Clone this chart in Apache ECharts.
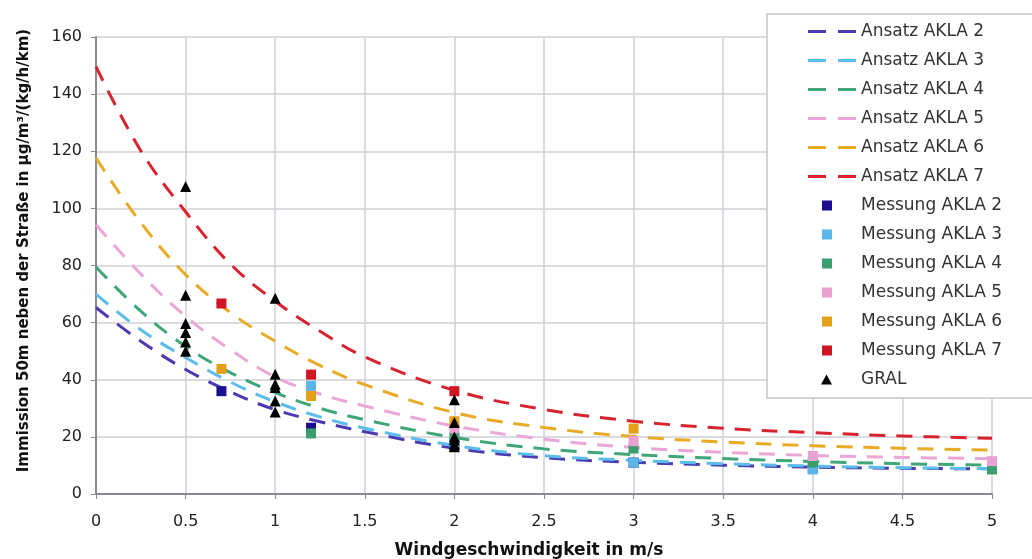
<!DOCTYPE html>
<html><head><meta charset="utf-8">
<script src="https://cdn.jsdelivr.net/npm/echarts@6/dist/echarts.min.js"></script>
<style>html,body{margin:0;padding:0;background:#fff}#c{width:1032px;height:559px}</style>
</head><body><div id="c"></div>
<script>
// Wind speeds at which the fitted curves were read
var curveX = [0, 0.25, 0.5, 0.75, 1, 1.25, 1.5, 2, 2.5, 3, 3.5, 4, 4.5, 5];
var ansatz2 = [65.3, 53.5, 43.6, 35.8, 29.5, 25.3, 21.8, 16.0, 12.7, 11.1, 10.1, 9.4, 9.0, 8.8];
var ansatz3 = [70.0, 57.5, 47.8, 39.2, 32.3, 27.0, 23.0, 17.0, 13.4, 11.8, 10.6, 9.8, 9.2, 8.9];
var ansatz4 = [79.5, 64.0, 51.7, 42.5, 35.5, 30.0, 26.0, 19.8, 15.8, 13.8, 12.4, 11.4, 10.6, 10.1];
var ansatz5 = [94.3, 77.0, 62.2, 50.5, 41.0, 35.0, 30.8, 23.8, 19.2, 16.3, 14.6, 13.5, 12.8, 12.4];
var ansatz6 = [117.6, 95.0, 76.8, 63.5, 53.5, 45.0, 38.3, 28.5, 23.3, 20.1, 18.2, 16.9, 16.0, 15.4];
var ansatz7 = [149.6, 120.2, 98.8, 80.5, 67.5, 57.0, 48.0, 36.3, 29.6, 25.5, 23.0, 21.5, 20.3, 19.5];

var messung2 = [[0.7, 36], [1.2, 23.2], [2, 17], [3, 11], [4, 9], [5, 8.8]];
var messung3 = [[1.2, 37.9], [2, 18], [3, 11], [4, 8.6], [5, 9]];
var messung4 = [[1.2, 21.2], [2, 20], [3, 15.9], [4, 11], [5, 8.6]];
var messung5 = [[2, 23], [3, 18.5], [4, 13.3], [5, 11.5]];
var messung6 = [[0.7, 43.8], [1.2, 34.3], [2, 25.5], [3, 22.9]];
var messung7 = [[0.7, 66.7], [1.2, 41.8], [2, 36]];
var gral = [[0.5, 107.7], [0.5, 69.6], [0.5, 59.7], [0.5, 56.5], [0.5, 53.2], [0.5, 50],
            [1, 68.5], [1, 41.9], [1, 38.4], [1, 37.3], [1, 32.6], [1, 28.7],
            [2, 33], [2, 25], [2, 20], [2, 19], [2, 17.5], [2, 16.5]];

var xTicks = ['0', '0.5', '1', '1.5', '2', '2.5', '3', '3.5', '4', '4.5', '5'];
var yTicks = ['0', '20', '40', '60', '80', '100', '120', '140', '160'];

var lineColors = ['#4a3cb0', '#5cbcec', '#3ea677', '#eaa6d6', '#e9ab25', '#d8232f'];
var markColors = ['#1c0e8e', '#5cb6ea', '#3a9e6e', '#e8a2d2', '#e5a01a', '#cf1424'];
var ansatz = [ansatz2, ansatz3, ansatz4, ansatz5, ansatz6, ansatz7];
var messung = [messung2, messung3, messung4, messung5, messung6, messung7];
var akla = ['2', '3', '4', '5', '6', '7'];

var dashIcon = 'path://M0,3.5L18,3.5L18,6.5L0,6.5ZM30,3.5L48,3.5L48,6.5L30,6.5ZM0,0L0.01,0L0.01,0.01ZM48,10L47.99,10L47.99,9.99Z';
var squareIcon = 'path://M14,0L24,0L24,10L14,10ZM0,0L0.01,0L0.01,0.01ZM48,10L47.99,10L47.99,9.99Z';
var triIcon = 'path://M13,10L18.5,0L24,10ZM0,0L0.01,0L0.01,0.01ZM48,10L47.99,10L47.99,9.99Z';
var series = [];
var legendData = [];
ansatz.forEach(function (arr, i) {
  var name = 'Ansatz AKLA ' + akla[i];
  legendData.push({ name: name, icon: dashIcon, itemStyle: { color: lineColors[i] } });
  series.push({
    name: name, type: 'line', smooth: 0.4, symbol: 'none', z: 2,
    lineStyle: { color: lineColors[i], width: 3, type: [16, 11] },
    itemStyle: { color: lineColors[i] },
    data: curveX.map(function (x, k) { return [x, arr[k]]; })
  });
});
messung.forEach(function (arr, i) {
  var name = 'Messung AKLA ' + akla[i];
  legendData.push({ name: name, icon: squareIcon });
  series.push({
    name: name, type: 'scatter', symbol: 'rect', symbolSize: 10, z: 3,
    itemStyle: { color: markColors[i], opacity: 1 },
    data: arr
  });
});
legendData.push({ name: 'GRAL', icon: triIcon });
series.push({
  name: 'GRAL', type: 'scatter', symbol: 'triangle', symbolSize: 11, z: 4,
  itemStyle: { color: '#000', opacity: 1 },
  data: gral
});

var chart = echarts.init(document.getElementById('c'), null, { renderer: 'canvas' });
chart.setOption({
  animation: false,
  backgroundColor: '#fff',
  textStyle: { fontFamily: 'DejaVu Sans' },
  grid: { left: 96, right: 40, top: 37, bottom: 65, containLabel: false, outerBoundsMode: 'none' },
  legend: {
    data: legendData, orient: 'vertical', left: 767, top: 14,
    padding: [9, 60, 10, 41], itemGap: 12, itemWidth: 48, itemHeight: 10,
    symbolKeepAspect: true,
    backgroundColor: '#fff', borderColor: '#c8c8c8', borderWidth: 1.5,
    textStyle: { fontSize: 17, color: '#333', fontFamily: 'DejaVu Sans' }
  },
  xAxis: {
    type: 'value', min: 0, max: 5, interval: 0.5,
    name: 'Windgeschwindigkeit in m/s', nameLocation: 'middle', nameGap: 48,
    nameTextStyle: { fontSize: 17, fontWeight: 'bold', color: '#111', fontFamily: 'DejaVu Sans', padding: [0, 30, 0, 0] },
    axisLine: { show: true, lineStyle: { color: '#8a8a94', width: 2 } },
    axisTick: { show: true, length: 5, lineStyle: { color: '#8a8a94' } },
    axisLabel: { margin: 20, fontSize: 16, color: '#222',
      formatter: function (v) { var i = Math.round(v / 0.5); return xTicks[i] !== undefined ? xTicks[i] : ''; } },
    splitLine: { show: true, lineStyle: { color: '#cfd0d8', width: 1.5 } }
  },
  yAxis: {
    type: 'value', min: 0, max: 160, interval: 20,
    name: 'Immission 50m neben der Straße in µg/m³/(kg/h/km)', nameLocation: 'middle', nameGap: 64, nameRotate: 90,
    nameTextStyle: { fontSize: 15, fontWeight: 'bold', color: '#111', fontFamily: 'DejaVu Sans', padding: [0, 0, 0, 30] },
    axisLine: { show: true, lineStyle: { color: '#8a8a94', width: 2 } },
    axisTick: { show: true, length: 5, lineStyle: { color: '#8a8a94' } },
    axisLabel: { margin: 14, fontSize: 16, color: '#222',
      formatter: function (v) { var i = Math.round(v / 20); return yTicks[i] !== undefined ? yTicks[i] : ''; } },
    splitLine: { show: true, lineStyle: { color: '#cfd0d8', width: 1.5 } }
  },
  series: series
});
</script>
</body></html>
